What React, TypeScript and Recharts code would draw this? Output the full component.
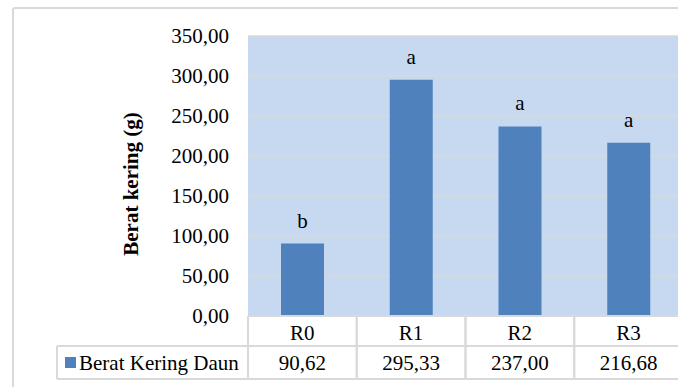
import React from 'react';
import { BarChart, Bar, XAxis, YAxis, CartesianGrid, LabelList } from 'recharts';

// Dry leaf weight per treatment
const categories = ['R0', 'R1', 'R2', 'R3'];
const beratKeringDaun = [90.62, 295.33, 237.0, 216.68];
const valueLabels = ['90,62', '295,33', '237,00', '216,68'];
const significance = ['b', 'a', 'a', 'a'];
const yTicks = [0, 50, 100, 150, 200, 250, 300, 350];
const seriesName = 'Berat Kering Daun';
const yTitle = 'Berat kering (g)';

const data = categories.map((c, i) => ({
  kategori: c,
  nilai: beratKeringDaun[i],
  label: valueLabels[i],
  huruf: significance[i],
}));

const FONT = 'Liberation Serif';
const FS = 21;
const BAR_COLOR = '#4F81BD';
const PLOT_BG = '#C6D9F1';
const LINE = '#D9D9D9';

const CHART_W = 700;
const CHART_H = 400;
const MARGIN = { top: 36, right: 17, bottom: 21, left: 0 };
const Y_W = 248;
const X_H = 63;
const PLOT_W = CHART_W - MARGIN.left - MARGIN.right - Y_W;
const BAND = PLOT_W / categories.length;
const ROW1_H = 30;
const LEGEND_X = 57;

const fmt = (v: number) => v.toFixed(2).replace('.', ',');

const textProps = { fontFamily: FONT, fontSize: FS, fill: '#000' };

// Category axis drawn as a data table: category row + value row
const TableTick = (props: any) => {
  const { x, y, index } = props;
  const half = BAND / 2;
  const left = x - half;
  const right = x + half;
  const rowMid = y + ROW1_H;
  const bottom = y + X_H;
  return (
    <g>
      <line x1={left} y1={y} x2={right} y2={y} stroke={LINE} strokeWidth={2} />
      <line x1={left} y1={rowMid} x2={right} y2={rowMid} stroke={LINE} strokeWidth={2} />
      <line x1={left} y1={bottom} x2={right} y2={bottom} stroke={LINE} strokeWidth={2} />
      <line x1={left} y1={y} x2={left} y2={bottom} stroke={LINE} strokeWidth={2} />
      <line x1={right} y1={y} x2={right} y2={bottom} stroke={LINE} strokeWidth={2} />
      <text x={x} y={y + 24} textAnchor="middle" {...textProps}>
        {categories[index]}
      </text>
      <text x={x} y={rowMid + 24} textAnchor="middle" {...textProps}>
        {valueLabels[index]}
      </text>
      {index === 0 && (
        <g>
          <line x1={LEGEND_X} y1={rowMid} x2={left} y2={rowMid} stroke={LINE} strokeWidth={2} />
          <line x1={LEGEND_X} y1={bottom} x2={left} y2={bottom} stroke={LINE} strokeWidth={2} />
          <line x1={LEGEND_X} y1={rowMid} x2={LEGEND_X} y2={bottom} stroke={LINE} strokeWidth={2} />
          <rect x={LEGEND_X + 8} y={rowMid + 11} width={11} height={11} fill={BAR_COLOR} />
          <text x={LEGEND_X + 22} y={rowMid + 24} textAnchor="start" {...textProps}>
            {seriesName}
          </text>
        </g>
      )}
    </g>
  );
};

const LetterLabel = (props: any) => {
  const { x, y, width, index } = props;
  return (
    <text x={x + width / 2} y={y - 16} textAnchor="middle" {...textProps}>
      {significance[index]}
    </text>
  );
};

const YTitle = (props: any) => {
  const vb = props.viewBox || { x: 0, y: MARGIN.top, height: 280 };
  const cx = vb.x + 138;
  const cy = vb.y + vb.height / 2 + 8;
  return (
    <text
      x={cx}
      y={cy}
      transform={`rotate(-90, ${cx}, ${cy})`}
      textAnchor="middle"
      fontWeight="bold"
      {...textProps}
    >
      {yTitle}
    </text>
  );
};

export default function App() {
  return (
    <div
      style={{
        position: 'fixed',
        left: 0,
        top: 0,
        width: 678,
        height: 387,
        overflow: 'hidden',
        background: '#fff',
        fontFamily: FONT,
      }}
    >
      <div
        style={{
          position: 'absolute',
          left: 12,
          top: 7,
          width: 720,
          height: 420,
          border: `2px solid ${LINE}`,
          borderRadius: 3,
          boxSizing: 'border-box',
        }}
      />
      <div style={{ position: 'absolute', left: 0, top: 0 }}>
        <BarChart
          width={CHART_W}
          height={CHART_H}
          data={data}
          margin={MARGIN}
          style={{ fontFamily: FONT }}
        >
          <CartesianGrid vertical={false} stroke={LINE} strokeWidth={1.5} fill={PLOT_BG} fillOpacity={1} />
          <XAxis
            dataKey="kategori"
            axisLine={false}
            tickLine={false}
            tickSize={0}
            tickMargin={0}
            height={X_H}
            interval={0}
            tick={<TableTick />}
          />
          <YAxis
            domain={[0, 350]}
            ticks={yTicks}
            width={Y_W}
            axisLine={false}
            tickLine={false}
            tickSize={0}
            tickMargin={19}
            tickFormatter={fmt}
            tick={textProps}
            label={{ content: <YTitle /> }}
          />
          <Bar dataKey="nilai" fill={BAR_COLOR} barSize={43} isAnimationActive={false}>
            <LabelList dataKey="huruf" content={<LetterLabel />} />
          </Bar>
        </BarChart>
      </div>
    </div>
  );
}
